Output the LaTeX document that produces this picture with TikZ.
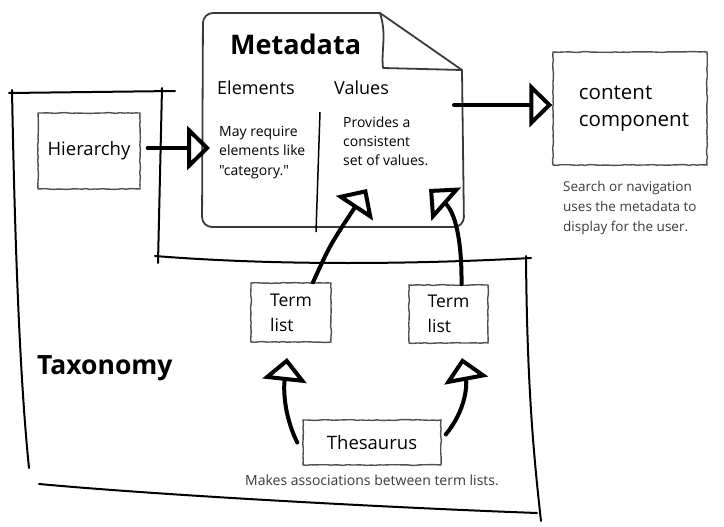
\documentclass[tikz,border=0pt]{standalone}
\usepackage{fontspec}
\setmainfont{Open Sans}[Ligatures=TeXOff]
\usetikzlibrary{arrows.meta,decorations.pathmorphing}
\definecolor{boxgray}{HTML}{505050}
\definecolor{docgray}{HTML}{3A3A3A}
\definecolor{capgray}{HTML}{3A3A3A}
\begin{document}
\begin{tikzpicture}[x=1pt,y=-1pt,
  frame/.style={line width=2pt, draw=black, line cap=round},
  doc/.style={line width=1.8pt, draw=docgray, line cap=round, line join=round},
  sketchbox/.style={draw=boxgray, line width=1.4pt, decorate,
    decoration={random steps, segment length=4pt, amplitude=0.45pt}, inner sep=0pt},
  arr/.style={line width=4pt, line cap=round, -{Triangle[open, length=23pt, width=44pt]}},
  txt/.style={inner sep=0pt, text=black},
  captext/.style={inner sep=0pt, text=capgray, align=left, font=\fontsize{13.5}{20}\selectfont},
]
\pgfmathsetseed{3}
\useasboundingbox (0,0) rectangle (724,527);

% taxonomy frame
\draw[frame] (9,93) -- (175,91);
\draw[frame] (12,90) .. controls (15,250) and (20,380) .. (29,468);
\draw[frame] (162,88) -- (158,263);
\draw[frame] (155,256) .. controls (280,266) and (420,264) .. (531,258);
\draw[frame] (526,256) .. controls (527,380) and (533,450) .. (541,521);
\draw[frame] (39,484) .. controls (170,496) and (400,508) .. (537,513);

% metadata document
\draw[doc, rounded corners=10pt] (380,13) -- (203,13) -- (202,227) -- (464,227) -- (462,70);
\draw[doc] (462,70) -- (380,13);
\draw[doc] (380,13) .. controls (387,35) and (381,50) .. (383,68) -- (462,70);
\draw[line width=1.5pt] (320,112) -- (316,232);

% texts in metadata
\node[txt, anchor=base west, font=\fontsize{27}{30}\selectfont\bfseries] (meta) at (230,55) {Metadata};
\node[txt, anchor=base west, font=\fontsize{18}{22}\selectfont] (elem) at (217,95) {Elements};
\node[txt, anchor=base west, font=\fontsize{18}{22}\selectfont] (vals) at (334,95) {Values};
\node[txt, anchor=west, align=left, font=\fontsize{14}{19.5}\selectfont] (elemtxt) at (219,152.5) {May require\\elements like\\"category."};
\node[txt, anchor=west, align=left, font=\fontsize{14}{19}\selectfont] (valtxt) at (343,141) {Provides a\\consistent\\set of values.};
\node[txt, anchor=base west, font=\fontsize{26.5}{30}\selectfont\bfseries] (tax) at (37,374) {Taxonomy};

% boxes
\node[sketchbox, minimum width=102pt, minimum height=76pt, font=\fontsize{18.5}{22}\selectfont] (hier) at (89,151) {Hierarchy};
\node[sketchbox, minimum width=154pt, minimum height=113pt, align=left, font=\fontsize{20.5}{27}\selectfont] (cc) at (630,108.5) {\hspace*{8pt}content\\\hspace*{8pt}component};
\node[sketchbox, minimum width=80pt, minimum height=59pt, align=left, font=\fontsize{17.5}{25}\selectfont] (t1) at (291,312.5) {Term\\list};
\node[sketchbox, minimum width=79pt, minimum height=58pt, align=left, font=\fontsize{17.5}{25}\selectfont] (t2) at (448.5,314) {Term\\list};
\node[sketchbox, minimum width=138pt, minimum height=45pt, font=\fontsize{18.5}{22}\selectfont] (thes) at (372,442.5) {Thesaurus};

% captions
\node[captext, anchor=west] (cctxt) at (563,208) {Search or navigation\\uses the metadata to\\display for the user.};
\node[captext, font=\fontsize{14}{20}\selectfont] (thtxt) at (372,480) {Makes associations between term lists.};

% arrow targets
\coordinate (metaW) at (210,148);
\coordinate (metaE) at (454,105);
\coordinate (valL) at (367,189);
\coordinate (valR) at (429,189);
\coordinate (t1in) at (287,358);
\coordinate (t2in) at (462,358);

% arrows
\draw[arr, shorten <=7pt] (hier.east |- metaW) -- (metaW);
\draw[arr] (metaE) -- (cc.west |- metaE);
\draw[arr] ([xshift=22pt]t1.north) .. controls (330,245) .. (valL);
\draw[arr] ([xshift=13pt]t2.north) .. controls (462,240) and (455,212) .. (valR);
\draw[arr] ([xshift=-5pt]thes.west) .. controls (286,420) and (283,395) .. (t1in);
\draw[arr] ([xshift=4pt,yshift=8pt]thes.east) .. controls (466,410) and (467,385) .. (t2in);
\end{tikzpicture}
\end{document}
